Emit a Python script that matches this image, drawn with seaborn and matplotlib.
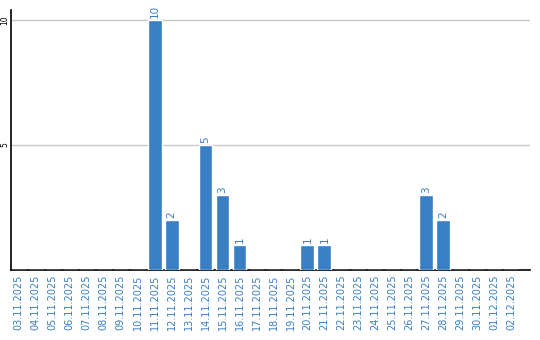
import matplotlib
matplotlib.use("Agg")
import matplotlib.pyplot as plt
import seaborn as sns
import pandas as pd

dates = ["03.11.2025", "04.11.2025", "05.11.2025", "06.11.2025", "07.11.2025",
         "08.11.2025", "09.11.2025", "10.11.2025", "11.11.2025", "12.11.2025",
         "13.11.2025", "14.11.2025", "15.11.2025", "16.11.2025", "17.11.2025",
         "18.11.2025", "19.11.2025", "20.11.2025", "21.11.2025", "22.11.2025",
         "23.11.2025", "24.11.2025", "25.11.2025", "26.11.2025", "27.11.2025",
         "28.11.2025", "29.11.2025", "30.11.2025", "01.12.2025", "02.12.2025"]
counts = [0, 0, 0, 0, 0, 0, 0, 0, 10, 2,
          0, 5, 3, 1, 0, 0, 0, 1, 1, 0,
          0, 0, 0, 0, 3, 2, 0, 0, 0, 0]
yticks = [5, 10]

BLUE = "#3a7ec3"
df = pd.DataFrame({"date": dates, "count": counts})

sns.set_theme(style="white")
plt.rcParams['font.family'] = ['DejaVu Sans']

fig = plt.figure(figsize=(5.4, 3.4), dpi=100)
ax = fig.add_axes([11/540, 70/340, 519/540, 260/340])

sns.barplot(data=df, x="date", y="count", color=BLUE, width=0.82,
            saturation=1, ax=ax, zorder=3)

ax.set_xlim(-0.45, 30.1)
ax.set_ylim(0, 10.4)
ax.set_yticks(yticks)
ax.set_yticklabels([str(t) for t in yticks], rotation=90, fontsize=5.5,
                   va="center", color="black")
ax.yaxis.grid(True, color="#c8c8c8", linewidth=1, zorder=0)
ax.set_axisbelow(True)
ax.tick_params(axis="y", length=0, pad=1)
ax.tick_params(axis="x", length=0, pad=3)
ax.set_xticks(range(len(dates)))
ax.set_xticklabels(dates, rotation=90, fontsize=7, color=BLUE)
ax.set_xlabel("")
ax.set_ylabel("")

for s in ["top", "right"]:
    ax.spines[s].set_visible(False)
for s in ["left", "bottom"]:
    ax.spines[s].set_color("black")
    ax.spines[s].set_linewidth(1.2)

for i, v in enumerate(counts):
    if v > 0:
        ax.text(i, v + 0.08, str(v), rotation=90, ha="center", va="bottom",
                fontsize=7.5, color=BLUE)

fig.savefig("out.png", dpi=100)
